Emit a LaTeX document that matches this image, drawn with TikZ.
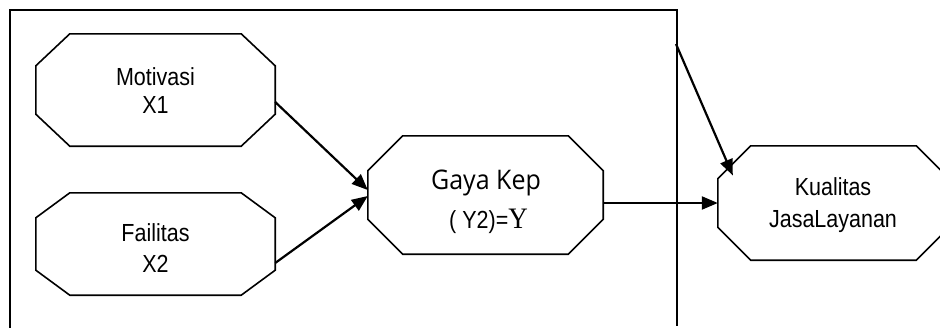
\documentclass[tikz,border=0pt]{standalone}
\usepackage{graphicx}
\usepackage{fontspec}
\setmainfont{Liberation Sans}
\newfontfamily\gayafont{Open Sans}
\newfontfamily\serifY{Liberation Serif}
\usetikzlibrary{arrows.meta,calc}

% text set slightly taller than the font's natural proportions
\newcommand\tall[2][1.15]{\scalebox{1}[#1]{#2}}

\tikzset{
  frameline/.style={line width=2pt, black},
  octline/.style={line width=1.6pt, black, line join=miter},
  octbox/.style={draw=none, inner sep=0pt, rectangle},
  lbl/.style={anchor=base, inner sep=0pt, font=\fontsize{21.5}{25}\selectfont},
  link/.style={line width=2.2pt, -{Triangle[length=16pt,width=13pt]}},
}

% octagon outline around a named box: #1 name, #2 horizontal chamfer, #3 vertical chamfer
\newcommand\octframe[3]{%
  \draw[octline] ([xshift=#2]#1.north west) -- ([xshift=-#2]#1.north east)
    -- ([yshift=-#3]#1.north east) -- ([yshift=#3]#1.south east)
    -- ([xshift=-#2]#1.south east) -- ([xshift=#2]#1.south west)
    -- ([yshift=#3]#1.south west) -- ([yshift=-#3]#1.north west) -- cycle;}

\begin{document}
\begin{tikzpicture}[x=1pt,y=-1pt]
\useasboundingbox (0,0) rectangle (940,327);
\clip (0,0) rectangle (940,327);

% enclosing frame
\draw[frameline] (10,332) -- (10,10) -- (677,10);
\draw[frameline] (677,9) -- (677,326);

% boxes
\node[octbox, minimum width=239pt, minimum height=112pt] (mot) at (155.5,90) {};
\node[octbox, minimum width=239pt, minimum height=102pt] (fai) at (155.5,244) {};
\node[octbox, minimum width=235pt, minimum height=118pt] (gay) at (485.5,195) {};
\node[octbox, minimum width=231pt, minimum height=114pt] (kua) at (833.5,203) {};

\octframe{mot}{34pt}{32pt}
\octframe{fai}{34pt}{25pt}
\octframe{gay}{35pt}{35pt}
\octframe{kua}{33pt}{33pt}

% labels
\node[lbl] (motA) at (155.5,85) {\tall{Motivasi}};
\node[lbl] (motB) at (155.5,113) {\tall{X1}};
\node[lbl] (faiA) at (155.5,241) {\tall{Failitas}};
\node[lbl] (faiB) at (155.5,272) {\tall{X2}};
\node[lbl, font=\gayafont\fontsize{25}{29}\selectfont] (gayA) at (486,189) {\tall[1.08]{Gaya Kep}};
\node[lbl] (gayB) at (488.5,228) {\tall{( Y2)=}{\serifY\fontsize{27}{31}\selectfont\tall[1.1]{Y}}};
\node[lbl] (kuaA) at (833,195) {\tall{Kualitas}};
\node[lbl] (kuaB) at (833,227) {\tall{JasaLayanan}};

% connectors
\coordinate (src) at (676,44);
\draw[link] ([yshift=-12pt]mot.east) -- ([yshift=5pt]gay.west);
\draw[link] ([yshift=-19pt]fai.east) -- ([yshift=-1pt]gay.west);
\draw[link] (gay.east |- kua.west) -- (kua.west);
\draw[link] (src) -- ($(kua.north west)!0.5!(kua.west)+(15pt,-1pt)$);
\end{tikzpicture}
\end{document}
